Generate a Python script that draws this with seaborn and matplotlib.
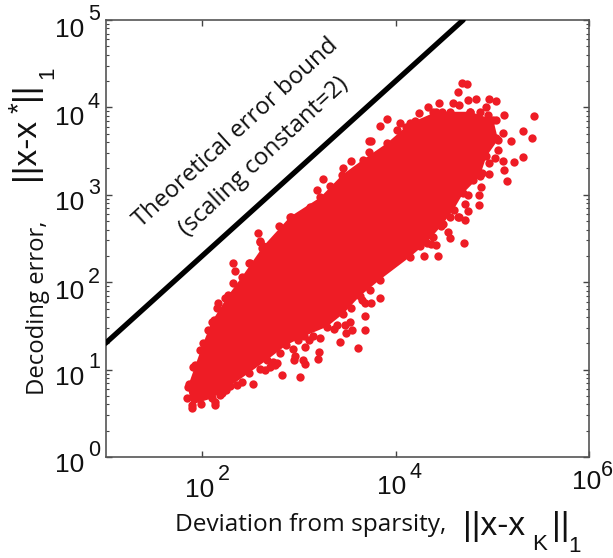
import numpy as np
import pandas as pd
import seaborn as sns
import matplotlib.pyplot as plt

# everything, in decades (log10 of the value)
# outline of the solid part of the cloud
core_logx = [1.89, 1.85, 1.93, 2.01, 2.10, 2.27, 2.41, 2.63, 2.91, 3.22, 3.45, 3.66, 3.91, 4.15,
             4.42, 4.77, 5.01, 5.06, 4.94, 4.87, 4.70, 4.60, 4.47, 4.32, 4.15, 3.84, 3.63, 3.46, 3.29, 3.05,
             2.87, 2.67, 2.48, 2.29, 2.10]
core_logy = [0.60, 0.80, 1.05, 1.30, 1.55, 1.85, 2.06, 2.41, 2.75, 2.97, 3.23, 3.40, 3.59, 3.82,
             3.95, 3.95, 3.86, 3.63, 3.44, 3.21, 3.02, 2.83, 2.64, 2.45, 2.29, 2.03, 1.84, 1.64, 1.49, 1.38,
             1.28, 1.11, 0.96, 0.81, 0.67]

# single dots that stick out of the cloud
dots_logx = [2.32, 2.34, 2.48, 2.16, 2.15, 2.13, 2.53, 2.83, 3.01, 2.65, 3.61, 3.68, 3.49, 3.55, 3.53, 3.48,
             3.21, 3.20, 3.06, 2.94, 2.96, 2.95, 3.04, 3.06, 2.75, 3.42, 3.22, 3.68, 3.75, 3.68, 3.84, 1.84,
             1.89, 2.60, 2.13, 2.77, 2.70, 2.36, 2.25, 2.18,
             4.69, 4.74, 4.65, 4.83, 4.45, 4.97, 5.04, 5.12, 5.43, 5.32, 5.41, 5.19, 5.11, 5.32, 5.22, 5.11,
             5.12, 4.97, 5.15, 4.88, 4.86, 4.86, 4.75, 4.71, 4.56, 4.54, 4.44, 4.42, 3.91, 3.84, 4.05, 4.24,
             4.34, 4.59, 4.75, 4.94, 5.03, 3.75, 4.72, 4.66, 4.29]
dots_logy = [2.22, 2.13, 2.22, 1.76, 1.70, 0.63, 0.83, 0.94, 0.91, 1.00, 1.25, 1.45, 1.42, 1.45, 1.55, 1.51,
             1.20, 1.12, 1.26, 1.23, 1.15, 1.11, 1.11, 1.06, 1.05, 1.32, 1.36, 1.61, 1.76, 1.76, 1.82, 0.67,
             0.56, 2.46, 0.60, 1.07, 1.03, 0.82, 0.77, 0.71,
             4.28, 4.27, 4.18, 4.10, 4.05, 4.10, 4.07, 3.91, 3.90, 3.73, 3.65, 3.62, 3.71, 3.43, 3.37, 3.39,
             3.28, 3.24, 3.16, 3.09, 3.00, 2.88, 2.82, 2.45, 2.51, 2.58, 2.30, 2.43, 3.87, 3.79, 3.82, 3.94,
             4.00, 4.05, 4.08, 4.01, 3.42, 3.61, 2.71, 2.75, 2.30]

# dots that make the bumpy rim of the cloud
rim_logx = [2.58, 2.60, 2.79, 2.92, 3.11, 3.19, 3.25, 3.32, 3.46, 3.54, 3.72, 3.73,
            4.01, 4.11, 4.20, 4.39, 4.48, 4.56, 4.66, 4.77, 4.87, 4.96, 5.04, 5.04, 5.06, 4.97, 4.89, 4.80,
            4.75, 4.72, 4.65, 4.56, 4.49, 4.39, 4.37, 4.25,
            3.74, 3.65, 3.54, 3.39, 3.36, 3.15, 3.10, 2.99, 2.80, 2.73, 2.60, 2.41, 2.20, 1.99,
            1.86, 1.91, 1.98, 2.06, 2.12, 2.24, 2.32, 2.49, 2.62]
rim_logy = [2.56, 2.47, 2.64, 2.75, 2.86, 3.06, 3.18, 3.10, 3.31, 3.39, 3.49, 3.61,
            3.74, 3.78, 3.84, 3.95, 3.95, 3.95, 4.03, 3.95, 3.95, 3.91, 3.86, 3.65, 3.51, 3.36, 3.25, 3.17,
            3.00, 2.90, 2.75, 2.75, 2.67, 2.52, 2.44, 2.41,
            1.91, 1.80, 1.70, 1.51, 1.47, 1.38, 1.34, 1.34, 1.19, 1.09, 1.01, 0.86, 0.73, 0.61,
            0.84, 1.03, 1.22, 1.45, 1.57, 1.82, 1.99, 2.22, 2.39]

bound_x = [10, 5e4]
bound_y = [20, 1e5]

xtick_vals = [1e2, 1e4, 1e6]
xtick_exps = ['2', '4', '6']
ytick_vals = [1e0, 1e1, 1e2, 1e3, 1e4, 1e5]
ytick_exps = ['0', '1', '2', '3', '4', '5']

W, H = 613, 558
red = '#ee1c25'
sans = 'Liberation Sans'
soft = 'Open Sans'

sns.set_style('ticks')
fig = plt.figure(figsize=(W / 100, H / 100), dpi=100)
ax = fig.add_axes([105.5 / W, 1 - 457 / H, (589 - 105.5) / W, (457 - 20) / H])

all_x = dots_logx + rim_logx + core_logx
all_y = dots_logy + rim_logy + core_logy
cloud = pd.DataFrame({'x': 10.0 ** np.array(all_x), 'y': 10.0 ** np.array(all_y)})
ax.fill(10.0 ** np.array(core_logx), 10.0 ** np.array(core_logy), color=red, lw=0, zorder=2)
sns.scatterplot(data=cloud, x='x', y='y', color=red, s=36, linewidth=0, ax=ax, zorder=3)
sns.lineplot(x=bound_x, y=bound_y, color='black', lw=3.8, ax=ax, zorder=4)

ax.set_xscale('log')
ax.set_yscale('log')
ax.set_xlim(1e1, 1e6)
ax.set_ylim(1e0, 1e5)
ax.set_xticks(xtick_vals)
ax.minorticks_off()
ax.set_yticks(ytick_vals)
ax.set_yticks([m * v for v in ytick_vals[:-1] for m in range(2, 10)], minor=True)
ax.tick_params(which='major', direction='in', length=4, width=1, color='#444444',
               labelleft=False, labelbottom=False, top=True, right=True)
ax.tick_params(which='minor', axis='y', direction='in', length=2.5, width=0.8, color='#444444', right=True)
ax.tick_params(axis='x', which='minor', length=0)
ax.set_xlabel('')
ax.set_ylabel('')
for s in ax.spines.values():
    s.set_color('#555555')
    s.set_linewidth(1.2)


def put(px, py, txt, size, family=sans, rot=0, ha='center', va='center'):
    fig.text(px / W, 1 - py / H, txt, fontsize=size, family=family, rotation=rot, ha=ha, va=va,
             rotation_mode='anchor', color='#111111')


# tick labels, 10 with a big detached exponent
xpos = [(200, 490, 224, 475), (392, 487, 415, 472), (587, 482, 607, 470)]
for (a, b, c, d), e in zip(xpos, xtick_exps):
    put(a, b, '10', 19)
    put(c, d, e, 15.5)
ypos = [465, 378, 292, 203, 118, 30]
for py, e in zip(ypos, ytick_exps):
    put(70, py, '10', 19)
    put(94, py - 15, e, 15.5)

put(175, 525, 'Deviation from sparsity,', 17.6, family=soft, ha='left')
put(463, 527, '||x-x', 24, ha='left')
put(540, 544, 'K', 16)
put(552, 527, '||', 24, ha='left')
put(575, 547, '1', 16)

put(38, 308, 'Decoding error,', 17.2, family=soft, rot=90)
put(26, 180, '||x-x', 24, rot=90, ha='left')
put(20, 108, '*', 20, rot=90)
put(26, 100, '||', 24, rot=90, ha='left')
put(48, 73, '1', 16, rot=90)

put(236, 133, 'Theoretical error bound', 17.3, family=soft, rot=42.5)
put(264, 157, '(scaling constant=2)', 17.3, family=soft, rot=43)

fig.savefig('out.png', dpi=100)
